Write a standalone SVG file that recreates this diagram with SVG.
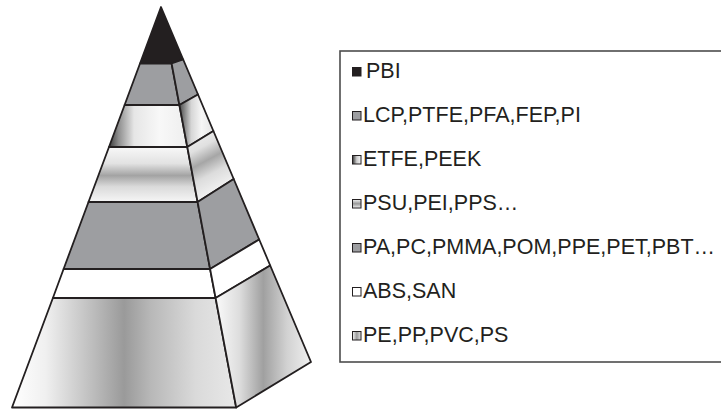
<svg xmlns="http://www.w3.org/2000/svg" width="721" height="409" viewBox="0 0 721 409">
  <defs>
    <style>
      .edge { stroke: #231f20; stroke-width: 1.8; stroke-linejoin: round; }
      .gray { fill: #9d9ea1; }
      .black { fill: #231f20; }
      .white { fill: #ffffff; }
      .mk { stroke: #231f20; stroke-width: 1; }
      .lbl { font-family: "Liberation Sans", Arial, sans-serif; font-size: 21.5px; fill: #231f20; }
    </style>
    <!-- band 3: front face darkens toward the left edge -->
    <linearGradient id="g3f" x1="0" y1="0" x2="1" y2="0">
      <stop offset="0" stop-color="#3a3a3a"/>
      <stop offset="0.12" stop-color="#8d8d8d"/>
      <stop offset="0.32" stop-color="#e6e6e6"/>
      <stop offset="0.65" stop-color="#f8f8f8"/>
      <stop offset="1" stop-color="#eeeeee"/>
    </linearGradient>
    <linearGradient id="g3r" x1="0" y1="0" x2="1" y2="0">
      <stop offset="0" stop-color="#4a4a4a"/>
      <stop offset="0.35" stop-color="#d6d6d6"/>
      <stop offset="0.65" stop-color="#f6f6f6"/>
      <stop offset="1" stop-color="#e4e4e4"/>
    </linearGradient>
    <!-- band 4: grey stripe across the middle -->
    <linearGradient id="g4f" x1="0" y1="0" x2="0" y2="1">
      <stop offset="0" stop-color="#f8f8f8"/>
      <stop offset="0.3" stop-color="#e2e2e2"/>
      <stop offset="0.52" stop-color="#a3a3a3"/>
      <stop offset="0.72" stop-color="#dadada"/>
      <stop offset="1" stop-color="#f6f6f6"/>
    </linearGradient>
    <linearGradient id="g4r" x1="0" y1="0" x2="0.35" y2="1">
      <stop offset="0" stop-color="#f6f6f6"/>
      <stop offset="0.3" stop-color="#e0e0e0"/>
      <stop offset="0.5" stop-color="#a6a6a6"/>
      <stop offset="0.7" stop-color="#dcdcdc"/>
      <stop offset="1" stop-color="#f6f6f6"/>
    </linearGradient>
    <!-- band 7: vertical grey shading across the base -->
    <linearGradient id="g7f" x1="0" y1="0" x2="1" y2="0">
      <stop offset="0" stop-color="#ffffff"/>
      <stop offset="0.15" stop-color="#f0f0f0"/>
      <stop offset="0.38" stop-color="#b8b8b8"/>
      <stop offset="0.5" stop-color="#9a9a9a"/>
      <stop offset="0.62" stop-color="#b8b8b8"/>
      <stop offset="0.82" stop-color="#dadada"/>
      <stop offset="1" stop-color="#e8e8e8"/>
    </linearGradient>
    <linearGradient id="g7r" x1="0" y1="0" x2="1" y2="0">
      <stop offset="0" stop-color="#fafafa"/>
      <stop offset="0.25" stop-color="#dddddd"/>
      <stop offset="0.5" stop-color="#a0a0a0"/>
      <stop offset="0.75" stop-color="#d2d2d2"/>
      <stop offset="1" stop-color="#f0f0f0"/>
    </linearGradient>
    <!-- legend swatches -->
    <linearGradient id="m3" x1="0" y1="0" x2="1" y2="0">
      <stop offset="0" stop-color="#333333"/>
      <stop offset="0.5" stop-color="#cccccc"/>
      <stop offset="1" stop-color="#f8f8f8"/>
    </linearGradient>
    <linearGradient id="m4" x1="0" y1="0" x2="0" y2="1">
      <stop offset="0" stop-color="#f4f4f4"/>
      <stop offset="0.5" stop-color="#999999"/>
      <stop offset="1" stop-color="#f4f4f4"/>
    </linearGradient>
    <linearGradient id="m7" x1="0" y1="0" x2="1" y2="0">
      <stop offset="0" stop-color="#f4f4f4"/>
      <stop offset="0.5" stop-color="#9a9a9a"/>
      <stop offset="1" stop-color="#e4e4e4"/>
    </linearGradient>
  </defs>

  <!-- pyramid, top to bottom -->
  <g id="layer-pbi">
    <polygon class="black edge" points="161,7 183.2,59.5 171.6,63.5 140,63.5"/>
  </g>
  <g id="layer-lcp">
    <polygon class="gray edge" points="140,63.5 171.6,63.5 179.4,105 124.6,105"/>
    <polygon class="gray edge" points="171.6,63.5 183.2,59.5 198,94.5 179.4,105"/>
  </g>
  <g id="layer-etfe">
    <polygon class="edge" fill="url(#g3f)" points="124.6,105 179.4,105 187.3,147 109,147"/>
    <polygon class="edge" fill="url(#g3r)" points="179.4,105 198,94.5 213.4,131 187.3,147"/>
  </g>
  <g id="layer-psu">
    <polygon class="edge" fill="url(#g4f)" points="109,147 187.3,147 197.6,202 88.5,202"/>
    <polygon class="edge" fill="url(#g4r)" points="187.3,147 213.4,131 233.7,179 197.6,202"/>
  </g>
  <g id="layer-pa">
    <polygon class="gray edge" points="88.5,202 197.6,202 210.1,269 63.6,269"/>
    <polygon class="gray edge" points="197.6,202 233.7,179 259.2,239.5 210.1,269"/>
  </g>
  <g id="layer-abs">
    <polygon class="white edge" points="63.6,269 210.1,269 215.6,298 52.9,298"/>
    <polygon class="white edge" points="210.1,269 259.2,239.5 270.2,265.5 215.6,298"/>
  </g>
  <g id="layer-pe">
    <polygon class="edge" fill="url(#g7f)" points="52.9,298 215.6,298 236.2,407.5 12,407.5"/>
    <polygon class="edge" fill="url(#g7r)" points="215.6,298 270.2,265.5 311,362 236.2,407.5"/>
  </g>

  <!-- legend -->
  <g id="legend">
    <rect x="340" y="51" width="400" height="311" fill="none" stroke="#4d4d4d" stroke-width="1.6"/>
    <g id="key-pbi">
      <rect class="black" x="352" y="67" width="9.5" height="9.5"/>
      <text class="lbl" x="366" y="77.5">PBI</text>
    </g>
    <g id="key-lcp">
      <rect class="gray mk" x="352.5" y="111.5" width="8.5" height="8.5"/>
      <text class="lbl" x="363" y="121.5">LCP,PTFE,PFA,FEP,PI</text>
    </g>
    <g id="key-etfe">
      <rect class="mk" fill="url(#m3)" x="352.5" y="155.5" width="8.5" height="8.5"/>
      <text class="lbl" x="363" y="165.5">ETFE,PEEK</text>
    </g>
    <g id="key-psu">
      <rect class="mk" fill="url(#m4)" x="352.5" y="199.5" width="8.5" height="8.5"/>
      <text class="lbl" x="363" y="209.5">PSU,PEI,PPS…</text>
    </g>
    <g id="key-pa">
      <rect class="gray mk" x="352.5" y="243.5" width="8.5" height="8.5"/>
      <text class="lbl" x="363" y="253.5">PA,PC,PMMA,POM,PPE,PET,PBT…</text>
    </g>
    <g id="key-abs">
      <rect class="white mk" x="352.5" y="287.5" width="8.5" height="8.5"/>
      <text class="lbl" x="363" y="297.5">ABS,SAN</text>
    </g>
    <g id="key-pe">
      <rect class="mk" fill="url(#m7)" x="352.5" y="331.5" width="8.5" height="8.5"/>
      <text class="lbl" x="363" y="341.5">PE,PP,PVC,PS</text>
    </g>
  </g>
</svg>
